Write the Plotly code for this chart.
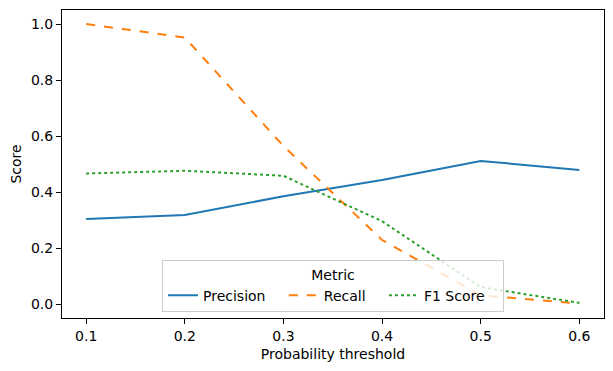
import plotly.graph_objects as go

thresholds = [0.1, 0.2, 0.3, 0.4, 0.5, 0.6]
precision = [0.305, 0.319, 0.386, 0.444, 0.512, 0.480]
recall = [1.0, 0.952, 0.565, 0.230, 0.033, 0.004]
f1_score = [0.467, 0.477, 0.459, 0.297, 0.062, 0.006]

series = [
    ("Precision", precision, "#1f77b4", "solid"),
    ("Recall", recall, "#ff7f0e", "dash"),
    ("F1 Score", f1_score, "#2ca02c", "dot"),
]

fig = go.Figure()
for name, vals, color, dash in series:
    fig.add_trace(go.Scatter(
        x=thresholds, y=vals, mode="lines", name=name + "   ",
        line=dict(color=color, width=2, dash=dash),
    ))

font = dict(family="DejaVu Sans", size=14, color="black")
axis_common = dict(
    showline=True, mirror=True, linecolor="black", linewidth=1,
    ticks="outside", ticklen=5, tickcolor="black", tickwidth=1,
    showgrid=False, zeroline=False, tickfont=font,
)

# page body has an 8px margin; margins below compensate so the plot lands where the reference has it
fig.update_layout(
    width=613, height=371,
    margin=dict(l=54, r=17, t=2, b=61),
    plot_bgcolor="white", paper_bgcolor="white",
    font=font,
    xaxis=dict(
        range=[0.0755, 0.625], tickvals=thresholds,
        ticktext=["0.1", "0.2", "0.3", "0.4", "0.5", "0.6"],
        title=dict(text="Probability threshold", font=font, standoff=6),
        **axis_common,
    ),
    yaxis=dict(
        range=[-0.048, 1.05], tickvals=[0, 0.2, 0.4, 0.6, 0.8, 1.0],
        ticktext=["0.0", "0.2", "0.4", "0.6", "0.8", "1.0"],
        title=dict(text="Score", font=font, standoff=8),
        **axis_common,
    ),
    legend=dict(
        orientation="h", x=0.5, xanchor="center", y=0.018, yanchor="bottom",
        bgcolor="rgba(255,255,255,0.8)", bordercolor="#cccccc", borderwidth=1,
        title=dict(text="Metric", side="top center", font=font),
        font=font, itemwidth=30,
    ),
    showlegend=True,
)

fig.write_html("out.html")
